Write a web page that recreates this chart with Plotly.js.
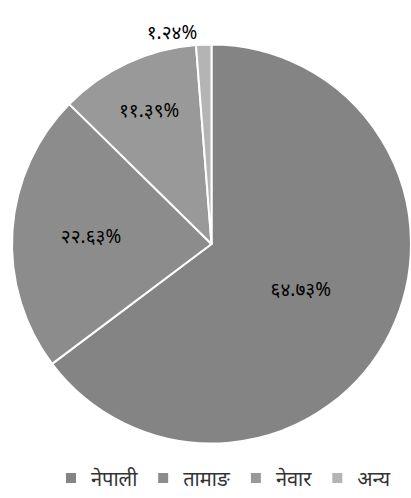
<!DOCTYPE html>
<html><head><meta charset="utf-8">
<script src="https://cdn.plot.ly/plotly-3.0.1.min.js"></script>
<style>html,body{margin:0;padding:0;background:#fff}#chart{width:411px;height:498px}</style>
</head><body><div id="chart"></div>
<script>
const categories = ['नेपाली', 'तामाङ', 'नेवार', 'अन्य'];
const shares = [64.73, 22.63, 11.39, 1.24];
const sliceColors = ['#848484', '#8c8c8c', '#999999', '#b4b4b4'];
const labelPositions = ['inside', 'inside', 'inside', 'outside'];

const devDigits = ['०','१','२','३','४','५','६','७','८','९'];
function toDev(s){ return s.replace(/[0-9]/g, d => devDigits[+d]); }
const sliceText = shares.map(v => toDev(v.toFixed(2)) + '%');

const fontFam = '"Noto Sans", "Noto Sans Devanagari", "Lohit Devanagari", "DejaVu Sans", sans-serif';

Plotly.newPlot('chart', [{
  type: 'pie',
  labels: categories,
  values: shares,
  text: sliceText,
  textinfo: 'text',
  textposition: labelPositions,
  insidetextorientation: 'horizontal',
  sort: false,
  direction: 'clockwise',
  rotation: 0,
  marker: {colors: sliceColors, line: {color: '#ffffff', width: 2}},
  textfont: {family: fontFam, size: 19, color: '#000000'},
  hoverinfo: 'none'
}], {
  width: 411, height: 498,
  margin: {l: 12, r: 0, t: 28, b: 38},
  paper_bgcolor: '#ffffff',
  showlegend: true,
  legend: {orientation: 'h', x: 0.53, xanchor: 'center', y: -0.087, yanchor: 'bottom',
           font: {family: fontFam, size: 20, color: '#333333'}, itemwidth: 30}
}, {displayModeBar: false, staticPlot: true});
</script></body></html>
